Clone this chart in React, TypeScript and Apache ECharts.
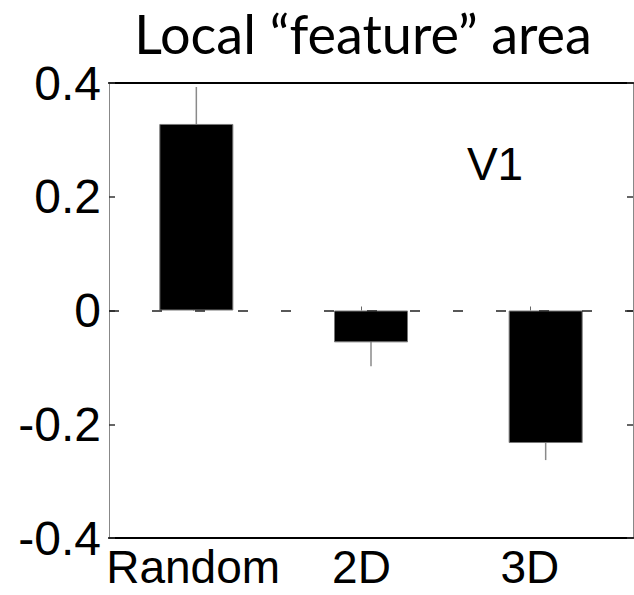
import React, { useEffect, useRef } from "react";
import * as echarts from "echarts";

const categories = ["Random", "2D", "3D"];
const positions = [1, 2, 3];
const values = [0.328, -0.056, -0.233];
const errors = [0.065, 0.042, 0.03];
const yTicks = [-0.4, -0.2, 0, 0.2, 0.4];
const titleText = "Local \u201Cfeature\u201D area";
const annotation = "V1";

export default function App() {
  const ref = useRef<HTMLDivElement>(null);
  useEffect(() => {
    if (!ref.current) return;
    const chart = echarts.init(ref.current, null, { renderer: "svg" });
    const font = "Liberation Sans, Arial, sans-serif";
    const barData = positions.map((p, i) => [p, values[i]]);
    const errData = positions.map((p, i) => [p, values[i], errors[i]]);
    const yAxisCommon = {
      type: "value",
      min: yTicks[0],
      max: yTicks[yTicks.length - 1],
      interval: 0.2,
      splitLine: { show: false },
    };
    chart.setOption({
      animation: false,
      backgroundColor: "#fff",
      graphic: [
        {
          type: "text",
          x: 363,
          y: 6,
          style: {
            text: titleText,
            fontFamily: "Lato, Open Sans, sans-serif",
            fontSize: 54,
            fill: "#000",
            textAlign: "center",
            textVerticalAlign: "top",
          },
        },
        {
          type: "text",
          x: 495,
          y: 164,
          style: {
            text: annotation,
            fontFamily: font,
            fontSize: 46,
            fill: "#000",
            textAlign: "center",
            textVerticalAlign: "middle",
          },
        },
      ],
      grid: [
        { left: 109, right: 1, top: 83, bottom: 57 },
        { left: 109, width: 505, top: 83, bottom: 57 },
      ],
      xAxis: [
        {
          gridIndex: 0,
          type: "value",
          min: 0.5,
          max: 3.5,
          position: "bottom",
          axisLine: { show: true, onZero: false, lineStyle: { color: "#000", width: 2 } },
          axisTick: { show: false },
          axisLabel: { show: false },
          splitLine: { show: false },
        },
        {
          gridIndex: 0,
          type: "value",
          min: 0.5,
          max: 3.5,
          position: "top",
          axisLine: { show: true, onZero: false, lineStyle: { color: "#000", width: 2 } },
          axisTick: { show: false },
          axisLabel: { show: false },
          splitLine: { show: false },
        },
        {
          gridIndex: 1,
          type: "category",
          data: categories,
          boundaryGap: true,
          position: "bottom",
          axisLine: { show: false },
          axisTick: {
            show: true,
            inside: true,
            alignWithLabel: true,
            interval: 0,
            length: 4,
            lineStyle: { color: "#666", width: 1 },
          },
          axisLabel: {
            interval: 0,
            color: "#000",
            fontFamily: font,
            fontSize: 46,
            margin: 6,
          },
        },
      ],
      yAxis: [
        {
          ...yAxisCommon,
          gridIndex: 0,
          position: "left",
          axisLine: { show: true, onZero: false, lineStyle: { color: "#888", width: 1 } },
          axisTick: { show: true, inside: true, length: 6, lineStyle: { color: "#333", width: 1.5 } },
          axisLabel: {
            color: "#000",
            fontFamily: font,
            fontSize: 48,
            margin: 8,
            formatter: (v: number) => (Math.abs(v) < 1e-9 ? "0" : String(Math.round(v * 10) / 10)),
          },
        },
        {
          ...yAxisCommon,
          gridIndex: 0,
          position: "right",
          axisLine: { show: true, onZero: false, lineStyle: { color: "#888", width: 1 } },
          axisTick: { show: true, inside: true, length: 6, lineStyle: { color: "#333", width: 1.5 } },
          axisLabel: { show: false },
        },
        {
          ...yAxisCommon,
          gridIndex: 1,
          show: false,
        },
      ],
      series: [
        {
          type: "custom",
          xAxisIndex: 0,
          yAxisIndex: 0,
          z: 1,
          data: errData,
          renderItem: (params: any, api: any) => {
            const x = api.value(0);
            const v = api.value(1);
            const e = api.value(2);
            const p1 = api.coord([x, v - e]);
            const p2 = api.coord([x, v + e]);
            return {
              type: "line",
              shape: { x1: p1[0], y1: p1[1], x2: p2[0], y2: p2[1] },
              style: { stroke: "#8a8a8a", lineWidth: 1.5 },
            };
          },
        },
        {
          type: "bar",
          xAxisIndex: 0,
          yAxisIndex: 0,
          z: 2,
          barWidth: 74,
          data: barData,
          itemStyle: { color: "#000", borderColor: "#777", borderWidth: 1 },
          markLine: {
            silent: true,
            symbol: "none",
            label: { show: false },
            lineStyle: { color: "#222", type: [10, 33], width: 1.5 },
            data: [{ yAxis: 0 }],
          },
        },
      ],
    });
    return () => chart.dispose();
  }, []);
  return (
    <div
      ref={ref}
      style={{ position: "absolute", left: 0, top: 0, width: 634, height: 595 }}
    />
  );
}
